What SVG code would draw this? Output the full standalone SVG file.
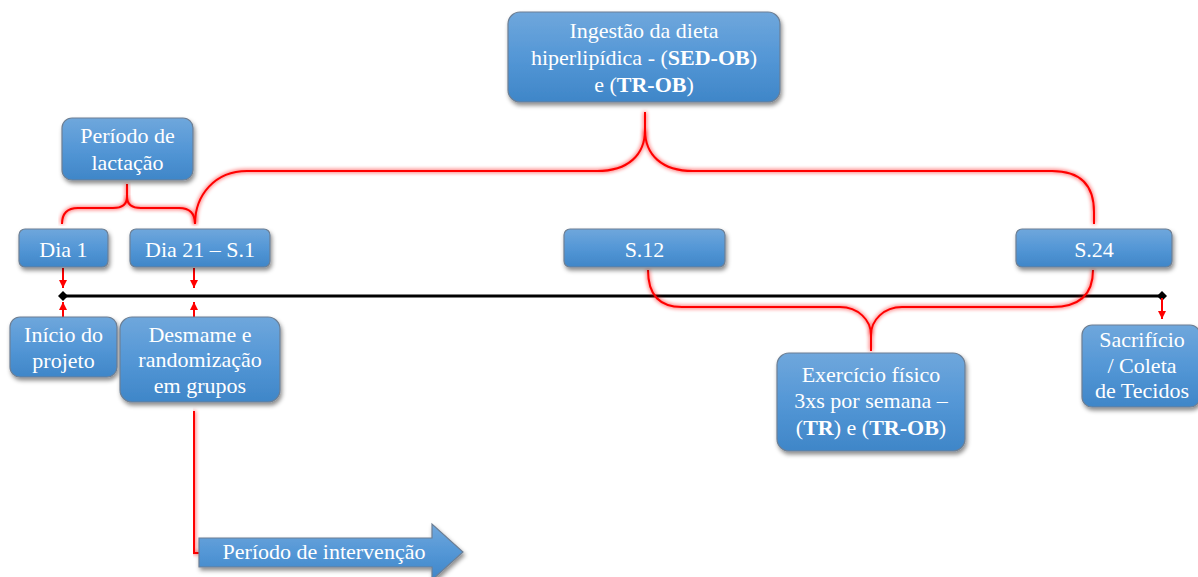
<svg xmlns="http://www.w3.org/2000/svg" width="1198" height="577" viewBox="0 0 1198 577">
<defs>
<linearGradient id="bg" x1="0" y1="0" x2="0" y2="1">
<stop offset="0" stop-color="#6fa7dc"/>
<stop offset="0.5" stop-color="#5497d6"/>
<stop offset="1" stop-color="#3f86c8"/>
</linearGradient>
<filter id="sh" x="-10%" y="-10%" width="130%" height="140%">
<feDropShadow dx="1.5" dy="3" stdDeviation="2" flood-color="#000" flood-opacity="0.45"/>
</filter>
<filter id="glow" x="-5%" y="-5%" width="110%" height="110%">
<feGaussianBlur in="SourceGraphic" stdDeviation="2" result="b"/>
<feMerge><feMergeNode in="b"/><feMergeNode in="SourceGraphic"/></feMerge>
</filter>
<marker id="ah" markerWidth="8" markerHeight="8" refX="8" refY="4" orient="auto" markerUnits="userSpaceOnUse">
<path d="M0,0 L8,4 L0,8 z" fill="#ff0000"/>
</marker>
<marker id="dm" markerWidth="10" markerHeight="10" refX="5" refY="5" orient="auto" markerUnits="userSpaceOnUse">
<path d="M0,5 L5,0 L10,5 L5,10 z" fill="#000"/>
</marker>
</defs>
<style>
.box{fill:url(#bg);stroke:#6d7f94;stroke-width:1.2;filter:url(#sh);}
.t{font-family:"Liberation Serif","Times New Roman",serif;font-size:22px;fill:#ffffff;text-anchor:middle;}
.b{font-weight:bold;}
.red{fill:none;stroke:#ff0000;stroke-width:2;filter:url(#glow);}
.arr{fill:none;stroke:#ff0000;stroke-width:2;marker-end:url(#ah);}
.tl{fill:none;stroke:#000;stroke-width:3;marker-start:url(#dm);marker-end:url(#dm);}
</style>
<rect width="1198" height="577" fill="#ffffff"/>

<g id="connectors">
<path class="tl" d="M63,296 L1162,296"/>
<path class="red" d="M62,224 Q62,208 78,208 L113,208 Q127,208 127,197 L127,184"/>
<path class="red" d="M195,224 Q195,208 179,208 L141,208 Q127,208 127,197"/>
<path class="red" d="M195,224 C195,195 215,171 247,171 L597,171 C628,171 645,155 645,130 L645,112"/>
<path class="red" d="M645,130 C645,155 662,171 693,171 L1052,171 Q1094,171 1094,212 L1094,224"/>
<path class="red" d="M648,270 Q648,307 682,307 L840,307 C858,307 871,320 871,335 L871,351"/>
<path class="red" d="M871,335 C871,320 884,307 902,307 L1052,307 Q1093,307 1093,270"/>
<path class="arr" d="M63,268 L63,288"/>
<path class="arr" d="M194,268 L194,288"/>
<path class="arr" d="M63,317 L63,302"/>
<path class="arr" d="M194,317 L194,302"/>
<path class="arr" d="M1162,298 L1162,319"/>
<path class="red" d="M194,411 L194,553 L200,553"/>
</g>

<g id="lactacao">
<rect class="box" x="62" y="118" width="131" height="62" rx="10"/>
<text class="t" x="127.5" y="143">Período de</text>
<text class="t" x="127.5" y="170">lactação</text>
</g>
<g id="ingestao">
<rect class="box" x="508" y="12" width="272" height="90" rx="12"/>
<text class="t" x="644" y="38">Ingestão da dieta</text>
<text class="t" x="644" y="65">hiperlipídica - (<tspan class="b">SED-OB</tspan>)</text>
<text class="t" x="644" y="92">e (<tspan class="b">TR-OB</tspan>)</text>
</g>
<g id="dia1">
<rect class="box" x="19" y="229" width="89" height="38" rx="6"/>
<text class="t" x="63.5" y="257">Dia 1</text>
</g>
<g id="dia21">
<rect class="box" x="130" y="229" width="140" height="38" rx="6"/>
<text class="t" x="200" y="257">Dia 21 – S.1</text>
</g>
<g id="s12">
<rect class="box" x="564" y="229" width="161" height="38" rx="6"/>
<text class="t" x="644.5" y="257">S.12</text>
</g>
<g id="s24">
<rect class="box" x="1016" y="229" width="156" height="38" rx="6"/>
<text class="t" x="1094" y="257">S.24</text>
</g>
<g id="inicio">
<rect class="box" x="10" y="317" width="107" height="60" rx="10"/>
<text class="t" x="63.5" y="342">Início do</text>
<text class="t" x="63.5" y="368">projeto</text>
</g>
<g id="desmame">
<rect class="box" x="120" y="317" width="160" height="85" rx="12"/>
<text class="t" x="200" y="342">Desmame e</text>
<text class="t" x="200" y="367">randomização</text>
<text class="t" x="200" y="393">em grupos</text>
</g>
<g id="exercicio">
<rect class="box" x="777" y="353" width="188" height="98" rx="12"/>
<text class="t" x="871" y="382">Exercício físico</text>
<text class="t" x="871" y="408">3xs por semana –</text>
<text class="t" x="871" y="435">(<tspan class="b">TR</tspan>) e (<tspan class="b">TR-OB</tspan>)</text>
</g>
<g id="sacrificio">
<rect class="box" x="1082" y="325" width="118" height="82" rx="10"/>
<text class="t" x="1142" y="347">Sacrifício</text>
<text class="t" x="1142" y="373">/ Coleta</text>
<text class="t" x="1142" y="398">de Tecidos</text>
</g>
<g id="intervencao">
<polygon class="box" points="199,538 432,538 432,524 463,552 432,580 432,567 199,567"/>
<text class="t" x="324" y="559">Período de intervenção</text>
</g>
</svg>
